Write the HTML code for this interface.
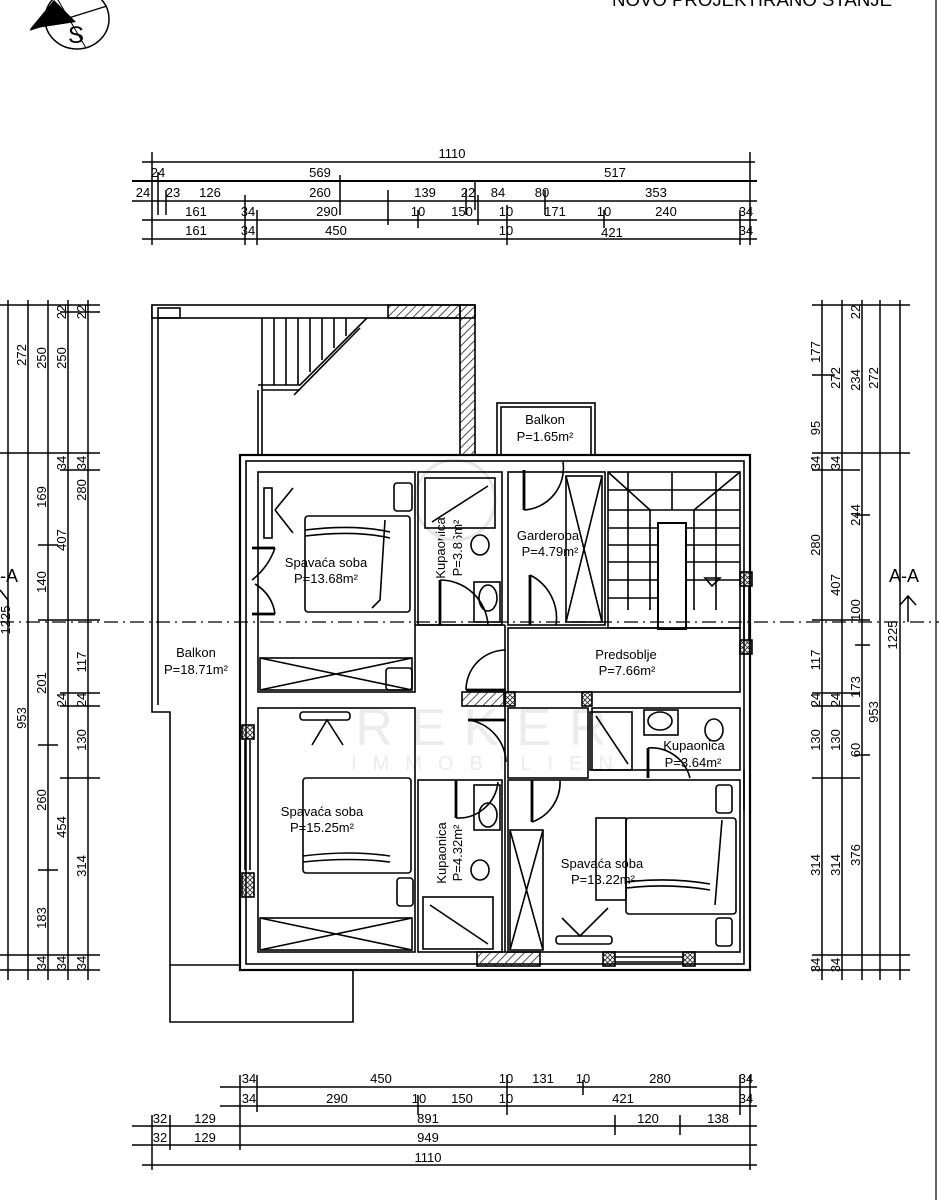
<!DOCTYPE html>
<html><head><meta charset="utf-8"><style>
html,body{margin:0;padding:0;background:#fff;}
svg{display:block;font-family:"Liberation Sans",sans-serif;}
</style></head><body>
<svg width="939" height="1200" viewBox="0 0 939 1200" xmlns="http://www.w3.org/2000/svg">
<defs>
<pattern id="h" width="6" height="6" patternUnits="userSpaceOnUse" patternTransform="rotate(45)"><line x1="0" y1="0" x2="0" y2="6" stroke="#222" stroke-width="1.6"/></pattern>
<pattern id="x" width="5" height="5" patternUnits="userSpaceOnUse"><path d="M0 0L5 5M5 0L0 5" stroke="#222" stroke-width="0.8"/></pattern>
</defs>
<rect width="939" height="1200" fill="#fff"/>
<!-- compass -->
<ellipse cx="77" cy="19" rx="32" ry="30" fill="none" stroke="#000" stroke-width="1.5"/>
<path d="M54 0 L30 29 L76 22 Z" fill="#000"/>
<line x1="30" y1="30" x2="107" y2="6" stroke="#000" stroke-width="1.2"/>
<line x1="58" y1="0" x2="86" y2="48" stroke="#000" stroke-width="1"/>
<text x="68" y="43" font-size="24">S</text>
<text x="612" y="6" font-size="18" textLength="280" lengthAdjust="spacingAndGlyphs">NOVO PROJEKTIRANO STANJE</text>
<line x1="936" y1="0" x2="936" y2="1200" stroke="#000" stroke-width="1.2"/>

<g stroke="#000" stroke-width="1.5" fill="none">
<!-- top dims -->
<line x1="142" y1="162" x2="755" y2="162"/>
<line x1="132" y1="181" x2="757" y2="181" stroke-width="2"/>
<line x1="132" y1="201" x2="757" y2="201"/>
<line x1="142" y1="220" x2="757" y2="220"/>
<line x1="142" y1="239" x2="757" y2="239"/>
<path d="M152 152V245M750 152V245M158 172V215M166 190V215M245 195V245M257 210V245M340 175V215M388 190V225M418 210V228M478 195V225M466 190V215M507 205V245M545 190V215M604 210V228M740 210V245M750 210V245M475 182V210"/>
<!-- left dims -->
<path d="M8 300V980M28 300V980M48 300V980M68 300V980M88 300V980"/>
<path d="M0 305H100M0 453H100M60 470H100M38 545H58M38 620H100M60 693H100M60 706H100M38 745H58M60 778H100M38 870H58M0 955H100M0 970H100M60 312H100"/>
<!-- right dims -->
<path d="M822 300V980M842 300V980M862 300V980M880 300V980M900 300V980"/>
<path d="M812 305H910M812 375H835M812 453H910M812 470H860M855 515H870M812 620H870M855 645H870M812 693H860M812 706H860M855 755H870M812 778H860M812 955H910M812 970H910"/>
<!-- bottom dims -->
<line x1="220" y1="1087" x2="757" y2="1087"/>
<line x1="220" y1="1106" x2="757" y2="1106"/>
<line x1="132" y1="1126" x2="757" y2="1126"/>
<line x1="132" y1="1145" x2="757" y2="1145"/>
<line x1="142" y1="1165" x2="757" y2="1165"/>
<path d="M152 1115V1170M170 1115V1150M240 1075V1150M257 1075V1112M418 1095V1115M507 1075V1115M583 1080V1095M615 1115V1135M680 1115V1135M740 1075V1115M750 1075V1170"/>
</g>
<g font-size="13" text-anchor="middle" fill="#000">
<text x="452" y="158">1110</text>
<text x="158" y="177">24</text><text x="320" y="177">569</text><text x="615" y="177">517</text>
<text x="143" y="197">24</text><text x="173" y="197">23</text><text x="210" y="197">126</text><text x="320" y="197">260</text><text x="425" y="197">139</text><text x="468" y="197">22</text><text x="498" y="197">84</text><text x="542" y="197">80</text><text x="656" y="197">353</text>
<text x="196" y="216">161</text><text x="248" y="216">34</text><text x="327" y="216">290</text><text x="418" y="216">10</text><text x="462" y="216">150</text><text x="506" y="216">10</text><text x="555" y="216">171</text><text x="604" y="216">10</text><text x="666" y="216">240</text><text x="746" y="216">34</text>
<text x="196" y="235">161</text><text x="248" y="235">34</text><text x="336" y="235">450</text><text x="506" y="235">10</text><text x="612" y="237">421</text><text x="746" y="235">34</text>
<text x="249" y="1083">34</text><text x="381" y="1083">450</text><text x="506" y="1083">10</text><text x="543" y="1083">131</text><text x="583" y="1083">10</text><text x="660" y="1083">280</text><text x="746" y="1083">34</text>
<text x="249" y="1103">34</text><text x="337" y="1103">290</text><text x="419" y="1103">10</text><text x="462" y="1103">150</text><text x="506" y="1103">10</text><text x="623" y="1103">421</text><text x="746" y="1103">34</text>
<text x="160" y="1123">32</text><text x="205" y="1123">129</text><text x="428" y="1123">891</text><text x="648" y="1123">120</text><text x="718" y="1123">138</text>
<text x="160" y="1142">32</text><text x="205" y="1142">129</text><text x="428" y="1142">949</text>
<text x="428" y="1162">1110</text>
</g>
<g font-size="13" text-anchor="middle" fill="#000">
<g transform="rotate(-90)">
<text x="-355" y="26">272</text><text x="-358" y="46">250</text><text x="-358" y="66">250</text><text x="-312" y="66">22</text><text x="-312" y="86">22</text>
<text x="-463" y="66">34</text><text x="-463" y="86">34</text>
<text x="-497" y="46">169</text><text x="-582" y="46">140</text><text x="-540" y="66">407</text><text x="-490" y="86">280</text>
<text x="-683" y="46">201</text><text x="-662" y="86">117</text><text x="-700" y="66">24</text><text x="-700" y="86">24</text>
<text x="-718" y="26">953</text><text x="-620" y="10">1225</text>
<text x="-740" y="86">130</text><text x="-800" y="46">260</text><text x="-827" y="66">454</text><text x="-866" y="86">314</text><text x="-918" y="46">183</text>
<text x="-963" y="66">34</text><text x="-963" y="86">34</text><text x="-963" y="46">34</text>
<text x="-352" y="820">177</text><text x="-428" y="820">95</text><text x="-463" y="820">34</text><text x="-545" y="820">280</text><text x="-660" y="820">117</text><text x="-700" y="820">24</text><text x="-740" y="820">130</text><text x="-865" y="820">314</text><text x="-965" y="820">34</text>
<text x="-378" y="840">272</text><text x="-463" y="840">34</text><text x="-585" y="840">407</text><text x="-700" y="840">24</text><text x="-740" y="840">130</text><text x="-865" y="840">314</text><text x="-965" y="840">34</text>
<text x="-312" y="860">22</text><text x="-380" y="860">234</text><text x="-515" y="860">244</text><text x="-610" y="860">100</text><text x="-687" y="860">173</text><text x="-750" y="860">60</text><text x="-855" y="860">376</text>
<text x="-378" y="878">272</text><text x="-712" y="878">953</text>
<text x="-635" y="897">1225</text>
<text x="-548" y="445">Kupaonica</text><text x="-548" y="462">P=3.86m²</text>
<text x="-853" y="446">Kupaonica</text><text x="-853" y="462">P=4.32m²</text>
</g>
</g>

<!-- section line -->
<line x1="0" y1="622" x2="939" y2="622" stroke="#000" stroke-width="1.2" stroke-dasharray="14 5 2 5"/>
<text x="0" y="582" font-size="18">-A</text>
<path d="M0 590 L8 600 V622" fill="none" stroke="#000" stroke-width="1.5"/>
<text x="889" y="582" font-size="18">A-A</text>
<path d="M900 605 L908 596 L916 605 M908 596 V622" fill="none" stroke="#000" stroke-width="1.5"/>

<!-- watermark -->
<circle cx="455" cy="500" r="40" fill="none" stroke="#e6e6e6" stroke-width="3"/>
<text x="490" y="745" font-size="52" fill="#ececec" text-anchor="middle" letter-spacing="18">REKER</text>
<text x="490" y="770" font-size="20" fill="#ececec" text-anchor="middle" letter-spacing="16">IMMOBILIEN</text>

<g stroke="#000" fill="none" stroke-width="1.6">
<path d="M152 305 V712 H170 V965 H240"/>
<path d="M158 310 V705"/>
<path d="M170 965 V1022 H353 V970"/>
<rect x="152" y="305" width="323" height="13" fill="#fff"/>
<rect x="158" y="308" width="22" height="10"/>
<rect x="388" y="305" width="72" height="13" fill="url(#h)"/>
<rect x="460" y="305" width="15" height="150" fill="url(#h)"/>
<path d="M262 318 V455 M258 390 V455 M258 385 H300 L367 318 M262 390 H300"/>
<path d="M274 318V385M286 318V385M298 318V385M310 318V372M322 318V360M334 318V348M346 318V336 M294 395 L360 328"/>
<rect x="497" y="403" width="98" height="52"/>
<rect x="501" y="407" width="90" height="48"/>
<rect x="240" y="455" width="510" height="515" stroke-width="2.2"/>
<rect x="246" y="461" width="498" height="503"/>
<rect x="258" y="472" width="157" height="220"/>
<rect x="418" y="472" width="84" height="153"/>
<rect x="508" y="472" width="97" height="153"/>
<rect x="608" y="472" width="132" height="156"/>
<rect x="508" y="628" width="232" height="64"/>
<rect x="258" y="708" width="157" height="244"/>
<rect x="418" y="780" width="84" height="172"/>
<rect x="508" y="780" width="232" height="172"/>
<rect x="508" y="708" width="80" height="70"/>
<rect x="592" y="708" width="148" height="62"/>
<line x1="415" y1="625" x2="505" y2="625"/>
<line x1="505" y1="625" x2="505" y2="952"/>
<rect x="462" y="692" width="42" height="14" fill="url(#h)"/>
<rect x="477" y="952" width="63" height="14" fill="url(#h)"/>
<rect x="505" y="692" width="10" height="14" fill="url(#x)"/>
<rect x="582" y="692" width="10" height="14" fill="url(#x)"/>
<rect x="242" y="725" width="12" height="14" fill="url(#x)"/>
<rect x="242" y="873" width="12" height="24" fill="url(#x)"/>
<rect x="740" y="572" width="12" height="14" fill="url(#x)"/>
<rect x="740" y="640" width="12" height="14" fill="url(#x)"/>
<rect x="603" y="952" width="12" height="14" fill="url(#x)"/>
<rect x="683" y="952" width="12" height="14" fill="url(#x)"/>
<path d="M615 957 H683 M615 962 H683 M245 740 V870 M250 740 V870 M744 586 V640 M749 586 V640 M744 770 V810"/>
<path d="M628 472V610M650 510V610M694 510V610M716 472V610 M608 490H740 M608 510H740 M608 528H658 M686 528H740 M608 545H658 M686 545H740 M608 562H658 M686 562H740 M608 580H658 M686 580H740 M608 598H658 M608 472 L650 510 M740 472 L694 510 M672 472V510"/>
<rect x="658" y="523" width="28" height="106" stroke-width="2"/>
<path d="M705 578 H720 L712 586 Z"/>
<rect x="566" y="476" width="36" height="146"/><path d="M566 476L602 622M602 476L566 622"/>
<rect x="260" y="658" width="152" height="32"/><path d="M260 658L412 690M412 658L260 690"/>
<rect x="260" y="918" width="152" height="32"/><path d="M260 918L412 950M412 918L260 950"/>
<rect x="510" y="830" width="33" height="120"/><path d="M510 830L543 950M543 830L510 950"/>
<rect x="596" y="818" width="30" height="82"/>
<rect x="425" y="478" width="70" height="50"/><path d="M432 522 L488 486"/>
<rect x="423" y="897" width="70" height="52"/><path d="M430 905 L488 944"/>
<rect x="590" y="712" width="42" height="58"/><path d="M596 716 L628 764"/>
<rect x="305" y="516" width="105" height="96" rx="3"/><path d="M305 530 Q355 524 390 532 M305 536 Q355 530 390 538"/>
<rect x="303" y="778" width="108" height="95" rx="3"/><path d="M303 862 Q350 857 390 862 M303 856 Q350 850 390 856"/>
<rect x="626" y="818" width="110" height="96" rx="3"/><path d="M626 888 Q670 883 710 890 M626 882 Q670 877 710 884"/>
<path d="M385 520 L380 600 L372 608 M722 820 L715 905"/>
<rect x="394" y="483" width="18" height="28" rx="3"/>
<rect x="397" y="878" width="16" height="28" rx="3"/>
<rect x="716" y="785" width="16" height="28" rx="3"/>
<rect x="716" y="918" width="16" height="28" rx="3"/>
<rect x="386" y="668" width="26" height="22" rx="3"/>
<rect x="264" y="488" width="8" height="50"/><path d="M275 510 L293 488 M275 510 L293 533"/>
<rect x="300" y="712" width="50" height="8" rx="3"/><path d="M312 745 L327 720 L343 745"/>
<rect x="556" y="936" width="56" height="8" rx="3"/><path d="M562 918 L580 936 L608 908"/>
<ellipse cx="480" cy="545" rx="9" ry="10"/><rect x="474" y="582" width="26" height="40"/><ellipse cx="488" cy="598" rx="9" ry="13"/>
<rect x="474" y="785" width="26" height="45"/><ellipse cx="488" cy="815" rx="9" ry="12"/><ellipse cx="480" cy="870" rx="9" ry="10"/>
<rect x="644" y="710" width="34" height="25"/><ellipse cx="660" cy="721" rx="12" ry="9"/><ellipse cx="714" cy="730" rx="9" ry="11"/>
<path d="M275 548 A70 70 0 0 1 252 580 M275 614 A40 40 0 0 0 255 584 M440 580 A48 48 0 0 1 488 625 M530 575 A48 48 0 0 1 556 625 M524 510 A42 42 0 0 0 563 462 M506 650 A40 40 0 0 0 466 690 M468 720 A44 44 0 0 1 506 762 M532 822 A42 42 0 0 0 560 780 M456 818 A40 40 0 0 0 498 782 M648 748 A40 40 0 0 1 690 778"/>
<path d="M252 548H275M252 614H275M440 580V625M530 575V625M524 470V510M466 690H506M468 720H506M532 780V822M456 780V818M648 748V778" stroke-width="2.8"/>
</g>
<g font-size="13" text-anchor="middle" fill="#000">
<text x="545" y="424">Balkon</text><text x="545" y="441">P=1.65m²</text>
<text x="326" y="567">Spavaća soba</text><text x="326" y="583">P=13.68m²</text>
<text x="548" y="540">Garderoba</text><text x="550" y="556">P=4.79m²</text>
<text x="196" y="657">Balkon</text><text x="196" y="674">P=18.71m²</text>
<text x="626" y="659">Predsoblje</text><text x="627" y="675">P=7.66m²</text>
<text x="694" y="750">Kupaonica</text><text x="693" y="767">P=3.64m²</text>
<text x="322" y="816">Spavaća soba</text><text x="322" y="832">P=15.25m²</text>
<text x="602" y="868">Spavaća soba</text><text x="603" y="884">P=13.22m²</text>
</g>
</svg>
</body></html>
